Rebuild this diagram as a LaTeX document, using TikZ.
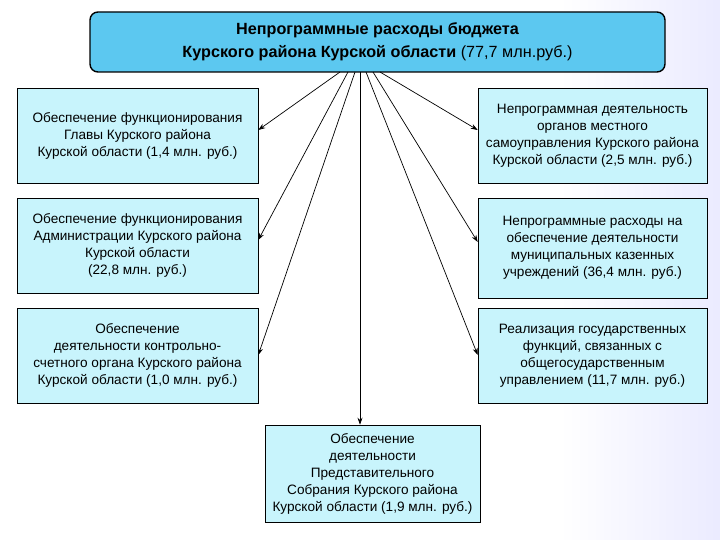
\documentclass[tikz,border=0pt]{standalone}
\usepackage{fontspec}
\setmainfont{Liberation Sans}
\usetikzlibrary{arrows.meta}
\definecolor{topblue}{HTML}{5CC8F0}
\definecolor{boxcyan}{HTML}{C8F4FC}
\begin{document}
\begin{tikzpicture}[x=1pt,y=-1pt,
  box/.style={draw=black,line width=0.6pt,fill=boxcyan,inner sep=1pt,align=center,font=\fontsize{13.6}{17}\selectfont},
  arr/.style={-{Stealth[length=7pt,width=5pt]},line width=0.7pt}]
\useasboundingbox[fill=white] (0,0) rectangle (720,540);
\shade[left color=white,right color=blue!8] (560,0) rectangle (720,540);
\node[draw=black,line width=1.4pt,rounded corners=8pt,fill=topblue,minimum width=575pt,minimum height=60pt,align=center,font=\fontsize{16.2}{23}\selectfont] (top) at (377.5,42)
 {\textbf{Непрограммные расходы бюджета}\\\textbf{Курского района Курской области} (77,7 млн.руб.)};
\node[box,minimum width=241pt,minimum height=95pt] (l1) at (137.5,135.5) {Обеспечение функционирования\\Главы Курского района\\Курской области (1,4 млн. руб.)};
\node[box,minimum width=241pt,minimum height=95pt] (l2) at (137.5,245.5) {Обеспечение функционирования\\Администрации Курского  района\\Курской области\\(22,8 млн. руб.)};
\node[box,minimum width=241pt,minimum height=95pt] (l3) at (137.5,355.5) {Обеспечение\\деятельности контрольно-\\счетного органа Курского района\\Курской области (1,0 млн. руб.)};
\node[box,minimum width=229pt,minimum height=95pt] (r1) at (592.5,135.5) {Непрограммная деятельность\\органов местного\\самоуправления Курского района\\Курской области (2,5 млн. руб.)};
\node[box,minimum width=229pt,minimum height=100pt] (r2) at (592.5,248) {Непрограммные расходы на\\обеспечение деятельности\\муниципальных казенных\\учреждений (36,4 млн. руб.)};
\node[box,minimum width=229pt,minimum height=95pt] (r3) at (592.5,355.5) {Реализация государственных\\функций, связанных с\\общегосударственным\\управлением (11,7 млн. руб.)};
\node[box,minimum width=215pt,minimum height=97pt] (b) at (372.5,473.5) {Обеспечение\\деятельности\\Представительного\\Собрания Курского района\\Курской области (1,9 млн. руб.)};
\coordinate (s1) at (340,72); \coordinate (s2) at (348,72); \coordinate (s3) at (355,72);
\coordinate (s4) at (360,72); \coordinate (s5) at (366,72); \coordinate (s6) at (373,72); \coordinate (s7) at (380,72);
\draw[arr] (s1) -- (l1.east |- 0,130);
\draw[arr] (s2) -- (l2.east |- 0,240);
\draw[arr] (s3) -- (l3.east |- 0,355);
\draw[arr] (s4) -- (b.north -| s4);
\draw[arr] (s5) -- (r3.west |- 0,355);
\draw[arr] (s6) -- (r2.west |- 0,242);
\draw[arr] (s7) -- (r1.west |- 0,130);
\end{tikzpicture}
\end{document}
